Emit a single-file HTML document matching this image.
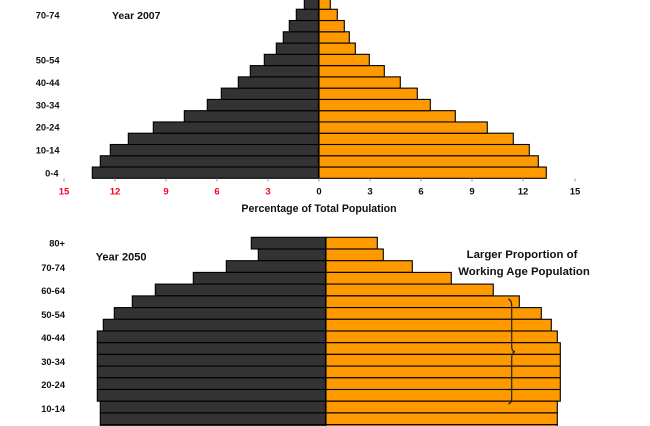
<!DOCTYPE html>
<html>
<head>
<meta charset="utf-8">
<style>
html,body{margin:0;padding:0;background:#fff;}
svg{display:block;}
text{font-family:"Liberation Sans",Arial,sans-serif;}
</style>
</head>
<body>
<svg width="650" height="426" viewBox="0 0 650 426" xmlns="http://www.w3.org/2000/svg">
<rect x="0" y="0" width="650" height="426" fill="#fff"/>
<!-- TOP CHART (2007) -->
<g stroke="#000" stroke-width="1.1">
<rect x="92.3" y="167.03" width="226.7" height="11.27" fill="#333"/>
<rect x="100.3" y="155.76" width="218.7" height="11.27" fill="#333"/>
<rect x="110.3" y="144.49" width="208.7" height="11.27" fill="#333"/>
<rect x="128.3" y="133.22" width="190.7" height="11.27" fill="#333"/>
<rect x="153.3" y="121.95" width="165.7" height="11.27" fill="#333"/>
<rect x="184.3" y="110.68" width="134.7" height="11.27" fill="#333"/>
<rect x="207.3" y="99.41" width="111.7" height="11.27" fill="#333"/>
<rect x="221.3" y="88.14" width="97.7" height="11.27" fill="#333"/>
<rect x="238.3" y="76.87" width="80.7" height="11.27" fill="#333"/>
<rect x="250.3" y="65.6" width="68.7" height="11.27" fill="#333"/>
<rect x="264.3" y="54.33" width="54.7" height="11.27" fill="#333"/>
<rect x="276.3" y="43.06" width="42.7" height="11.27" fill="#333"/>
<rect x="283.3" y="31.79" width="35.7" height="11.27" fill="#333"/>
<rect x="289.3" y="20.52" width="29.7" height="11.27" fill="#333"/>
<rect x="296.3" y="9.25" width="22.7" height="11.27" fill="#333"/>
<rect x="304.3" y="-2.02" width="14.7" height="11.27" fill="#333"/>
<rect x="319" y="167.03" width="227.3" height="11.27" fill="#FF9900"/>
<rect x="319" y="155.76" width="219.3" height="11.27" fill="#FF9900"/>
<rect x="319" y="144.49" width="210.3" height="11.27" fill="#FF9900"/>
<rect x="319" y="133.22" width="194.3" height="11.27" fill="#FF9900"/>
<rect x="319" y="121.95" width="168.3" height="11.27" fill="#FF9900"/>
<rect x="319" y="110.68" width="136.3" height="11.27" fill="#FF9900"/>
<rect x="319" y="99.41" width="111.3" height="11.27" fill="#FF9900"/>
<rect x="319" y="88.14" width="98.3" height="11.27" fill="#FF9900"/>
<rect x="319" y="76.87" width="81.3" height="11.27" fill="#FF9900"/>
<rect x="319" y="65.6" width="65.3" height="11.27" fill="#FF9900"/>
<rect x="319" y="54.33" width="50.3" height="11.27" fill="#FF9900"/>
<rect x="319" y="43.06" width="36.3" height="11.27" fill="#FF9900"/>
<rect x="319" y="31.79" width="30.3" height="11.27" fill="#FF9900"/>
<rect x="319" y="20.52" width="25.3" height="11.27" fill="#FF9900"/>
<rect x="319" y="9.25" width="18.3" height="11.27" fill="#FF9900"/>
<rect x="319" y="-2.02" width="11.3" height="11.27" fill="#FF9900"/>
</g>
<line x1="318.5" y1="0" x2="318.5" y2="178.3" stroke="#000" stroke-width="1.2"/>
<g stroke="#999" stroke-width="1">
<line x1="64" y1="178.5" x2="64" y2="181.5"/>
<line x1="115" y1="178.5" x2="115" y2="181.5"/>
<line x1="166" y1="178.5" x2="166" y2="181.5"/>
<line x1="217" y1="178.5" x2="217" y2="181.5"/>
<line x1="268" y1="178.5" x2="268" y2="181.5"/>
<line x1="319" y1="178.5" x2="319" y2="181.5"/>
<line x1="370" y1="178.5" x2="370" y2="181.5"/>
<line x1="421" y1="178.5" x2="421" y2="181.5"/>
<line x1="472" y1="178.5" x2="472" y2="181.5"/>
<line x1="523" y1="178.5" x2="523" y2="181.5"/>
<line x1="575" y1="178.5" x2="575" y2="181.5"/>
</g>
<g font-size="9.5" font-weight="bold" text-anchor="middle">
<text x="64" y="194.5" fill="#FF0022">15</text>
<text x="115" y="194.5" fill="#FF0022">12</text>
<text x="166" y="194.5" fill="#FF0022">9</text>
<text x="217" y="194.5" fill="#FF0022">6</text>
<text x="268" y="194.5" fill="#FF0022">3</text>
<text x="319" y="194.5" fill="#111">0</text>
<text x="370" y="194.5" fill="#111">3</text>
<text x="421" y="194.5" fill="#111">6</text>
<text x="472" y="194.5" fill="#111">9</text>
<text x="523" y="194.5" fill="#111">12</text>
<text x="575" y="194.5" fill="#111">15</text>
</g>
<text x="319" y="212" font-size="10.6" font-weight="bold" text-anchor="middle" fill="#111">Percentage of Total Population</text>
<g font-size="9.3" font-weight="bold" text-anchor="end" fill="#111">
<text x="59.5" y="18.4">70-74</text>
<text x="59.5" y="63.4">50-54</text>
<text x="59.5" y="86">40-44</text>
<text x="59.5" y="108.6">30-34</text>
<text x="59.5" y="130.6">20-24</text>
<text x="59.5" y="153.6">10-14</text>
<text x="58.5" y="176.4">0-4</text>
</g>
<text x="112" y="19" font-size="10.5" font-weight="bold" fill="#111">Year 2007</text>

<!-- BOTTOM CHART (2050) -->
<g stroke="#000" stroke-width="1.1">
<rect x="251.3" y="237.3" width="74.7" height="11.71" fill="#333"/>
<rect x="258.3" y="249.0" width="67.7" height="11.71" fill="#333"/>
<rect x="226.3" y="260.7" width="99.7" height="11.71" fill="#333"/>
<rect x="193.3" y="272.4" width="132.7" height="11.71" fill="#333"/>
<rect x="155.3" y="284.1" width="170.7" height="11.71" fill="#333"/>
<rect x="132.3" y="295.9" width="193.7" height="11.71" fill="#333"/>
<rect x="114.3" y="307.6" width="211.7" height="11.71" fill="#333"/>
<rect x="103.3" y="319.3" width="222.7" height="11.71" fill="#333"/>
<rect x="97.3" y="331.0" width="228.7" height="11.71" fill="#333"/>
<rect x="97.3" y="342.7" width="228.7" height="11.71" fill="#333"/>
<rect x="97.3" y="354.4" width="228.7" height="11.71" fill="#333"/>
<rect x="97.3" y="366.1" width="228.7" height="11.71" fill="#333"/>
<rect x="97.3" y="377.8" width="228.7" height="11.71" fill="#333"/>
<rect x="97.3" y="389.5" width="228.7" height="11.71" fill="#333"/>
<rect x="100.3" y="401.2" width="225.7" height="11.71" fill="#333"/>
<rect x="100.3" y="412.9" width="225.7" height="11.71" fill="#333"/>
<rect x="100.3" y="424.7" width="225.7" height="11.71" fill="#333"/>
<rect x="326" y="237.3" width="51.3" height="11.71" fill="#FF9900"/>
<rect x="326" y="249.0" width="57.3" height="11.71" fill="#FF9900"/>
<rect x="326" y="260.7" width="86.3" height="11.71" fill="#FF9900"/>
<rect x="326" y="272.4" width="125.3" height="11.71" fill="#FF9900"/>
<rect x="326" y="284.1" width="167.3" height="11.71" fill="#FF9900"/>
<rect x="326" y="295.9" width="193.3" height="11.71" fill="#FF9900"/>
<rect x="326" y="307.6" width="215.3" height="11.71" fill="#FF9900"/>
<rect x="326" y="319.3" width="225.3" height="11.71" fill="#FF9900"/>
<rect x="326" y="331.0" width="231.3" height="11.71" fill="#FF9900"/>
<rect x="326" y="342.7" width="234.3" height="11.71" fill="#FF9900"/>
<rect x="326" y="354.4" width="234.3" height="11.71" fill="#FF9900"/>
<rect x="326" y="366.1" width="234.3" height="11.71" fill="#FF9900"/>
<rect x="326" y="377.8" width="234.3" height="11.71" fill="#FF9900"/>
<rect x="326" y="389.5" width="234.3" height="11.71" fill="#FF9900"/>
<rect x="326" y="401.2" width="231.3" height="11.71" fill="#FF9900"/>
<rect x="326" y="412.9" width="231.3" height="11.71" fill="#FF9900"/>
<rect x="326" y="424.7" width="231.3" height="11.71" fill="#FF9900"/>
</g>
<line x1="325.5" y1="237.3" x2="325.5" y2="426" stroke="#000" stroke-width="1.2"/>
<g font-size="9.3" font-weight="bold" text-anchor="end" fill="#111">
<text x="65" y="246.6">80+</text>
<text x="65" y="271">70-74</text>
<text x="65" y="294">60-64</text>
<text x="65" y="318">50-54</text>
<text x="65" y="341">40-44</text>
<text x="65" y="365">30-34</text>
<text x="65" y="388">20-24</text>
<text x="65" y="412">10-14</text>
</g>
<text x="95.7" y="260.6" font-size="11" font-weight="bold" fill="#111">Year 2050</text>
<g font-size="11.4" font-weight="bold" text-anchor="middle" fill="#111">
<text x="522" y="258">Larger Proportion of</text>
<text x="524" y="275">Working Age Population</text>
</g>
<path d="M508.3,299 Q511.7,300 511.7,306 L511.7,346 Q511.7,351.7 515,351.7 Q511.7,352.4 511.7,358 L511.7,397.5 Q511.7,403.7 508.3,403.7" fill="none" stroke="#222" stroke-width="1.2"/>
</svg>
</body>
</html>
